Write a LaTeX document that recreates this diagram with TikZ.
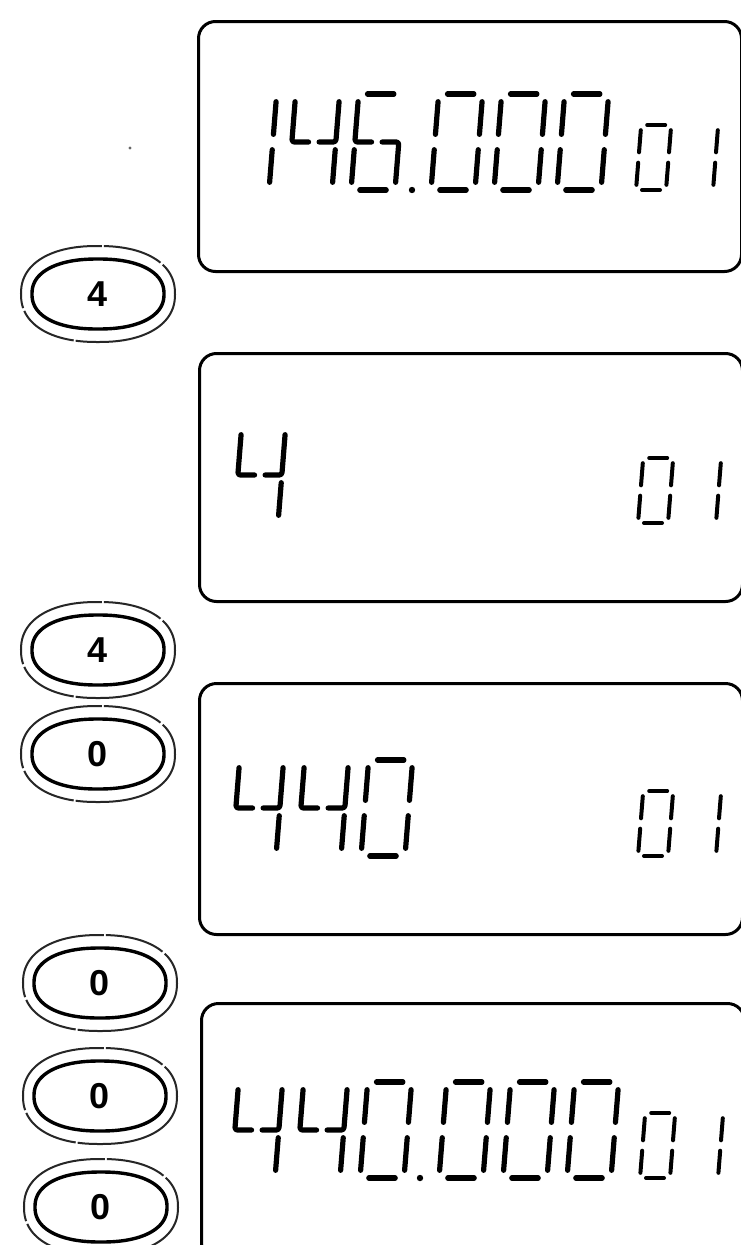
\documentclass[tikz,border=0pt]{standalone}
\usepackage{fontspec}
\setmainfont{Liberation Sans}
\begin{document}
\begin{tikzpicture}[x=1pt,y=-1pt]
\tikzset{
  lcdbox/.style={draw=black, line width=3pt, rounded corners=17pt, minimum width=543pt, inner sep=0pt, anchor=north west},
  keylabel/.style={inner sep=0pt, font=\fontsize{36}{36}\selectfont\bfseries},
  keyin/.style={draw=black, line width=3.4pt},
  keyout/.style={draw=black!85, line width=2pt, dash pattern=on 120pt off 2pt on 60pt off 3pt},
  seg/.style={line width=5.2pt, line cap=round, line join=round, rounded corners=2.5pt, black},
  sseg/.style={line width=4pt, line cap=round, line join=round, rounded corners=2pt, black},
}
% segment macros (u right, v up => coordinate (u,-v))
\newcommand\sega{\draw[\SS] ({0.2*\W},{-\H}) -- ({0.8*\W},{-\H});}
\newcommand\segb{\draw[\SS] (\W,{-(\H-\G)}) -- (\W,{-(\M+\G)});}
\newcommand\segc{\draw[\SS] (\W,{-(\M-\G)}) -- (\W,{-\G});}
\newcommand\segd{\draw[\SS] ({0.2*\W},0) -- ({0.8*\W},0);}
\newcommand\sege{\draw[\SS] (0,{-(\M-\G)}) -- (0,{-\G});}
\newcommand\segf{\draw[\SS] (0,{-(\H-\G)}) -- (0,{-(\M+\G)});}
\newcommand\segg{\draw[\SS] ({0.2*\W},{-\M}) -- ({0.8*\W},{-\M});}
% joined segments as drawn on the display
\newcommand\segF{\draw[\SS] (0,{-(\H-\G)}) -- (0,{-\M}) -- ({0.38*\W},{-\M});}
\newcommand\segB{\draw[\SS] (\W,{-(\H-\G)}) -- (\W,{-\M}) -- ({0.62*\W},{-\M});}
\newcommand\segC{\draw[\SS] ({0.62*\W},{-\M}) -- (\W,{-\M}) -- (\W,{-\G});}
% \lcd{x0}{ybottom}{W}{H}{segment list macro}{style}
\newcommand\lcd[6]{%
  \begin{scope}[shift={(#1,#2)}, xslant=0.08]
    \pgfmathsetmacro\W{#3}\pgfmathsetmacro\H{#4}%
    \pgfmathsetmacro\M{#4/2}\pgfmathsetmacro\G{0.08*#4}%
    \def\SS{#6}%
    \foreach \s in #5 {\csname seg\s\endcsname}
  \end{scope}}
\def\zero{a,b,c,d,e,f}
\def\one{b,c}
\def\four{F,B,c}
\def\six{a,F,C,d,e}
% superellipse outline around a named node
\newcommand\keyoval[4]{% node, a, b, style
  \begin{scope}[shift={(#1.center)}]
    \draw[#4] plot[domain=0.5:360.5, samples=121, smooth cycle]
      ({#2*sign(cos(\x))*pow(abs(cos(\x)),0.88)},{#3*sign(sin(\x))*pow(abs(sin(\x)),0.88)});
  \end{scope}}

\useasboundingbox (0,0) rectangle (741,1245);
\clip (0,0) rectangle (741,1245);
\fill[white] (0,0) rectangle (741,1245);

% display boxes
\node[lcdbox, minimum height=250pt] (d1) at (197,20) {};
\node[lcdbox, minimum height=248pt] (d2) at (198,352) {};
\node[lcdbox, minimum height=251pt] (d3) at (198,682) {};
\node[lcdbox, minimum height=256pt] (d4) at (200,1002) {};

% keys
\foreach \n/\lab/\x/\y in {k1/4/98/294, k2/4/98/650, k3/0/98/754, k4/0/100/983, k5/0/100/1096, k6/0/101/1207}{
  \node[keylabel] (\n) at (\x,\y) {\lab};
  \keyoval{\n}{66}{35}{keyin}
  \keyoval{\n}{77}{48}{keyout}
}

% display 1: 146.000 01
\lcd{225}{190}{44}{96}{\one}{seg}
\lcd{288}{190}{44}{96}{\four}{seg}
\lcd{351}{190}{44}{96}{\six}{seg}
\fill (412,190) circle (3.2pt);
\lcd{431}{190}{44}{96}{\zero}{seg}
\lcd{494}{190}{44}{96}{\zero}{seg}
\lcd{557}{190}{44}{96}{\zero}{seg}
\lcd{636}{190}{30}{65}{\zero}{sseg}
\lcd{683}{190}{30}{65}{\one}{sseg}

% display 2: 4 01
\lcd{234}{523}{44}{96}{\four}{seg}
\lcd{638}{523}{30}{65}{\zero}{sseg}
\lcd{686}{523}{30}{65}{\one}{sseg}

% display 3: 440 01
\lcd{232}{856}{44}{96}{\four}{seg}
\lcd{297}{856}{44}{96}{\four}{seg}
\lcd{361}{856}{44}{96}{\zero}{seg}
\lcd{638}{856}{30}{65}{\zero}{sseg}
\lcd{686}{856}{30}{65}{\one}{sseg}

% display 4: 440.000 01
\lcd{231}{1178}{44}{96}{\four}{seg}
\lcd{296}{1178}{44}{96}{\four}{seg}
\lcd{360}{1178}{44}{96}{\zero}{seg}
\fill (420,1178) circle (3.2pt);
\lcd{439}{1178}{44}{96}{\zero}{seg}
\lcd{503}{1178}{44}{96}{\zero}{seg}
\lcd{567}{1178}{44}{96}{\zero}{seg}
\lcd{640}{1178}{30}{65}{\zero}{sseg}
\lcd{688}{1178}{30}{65}{\one}{sseg}

% speck
\fill[black!60] (130,148) circle (1.6pt);
\end{tikzpicture}
\end{document}
